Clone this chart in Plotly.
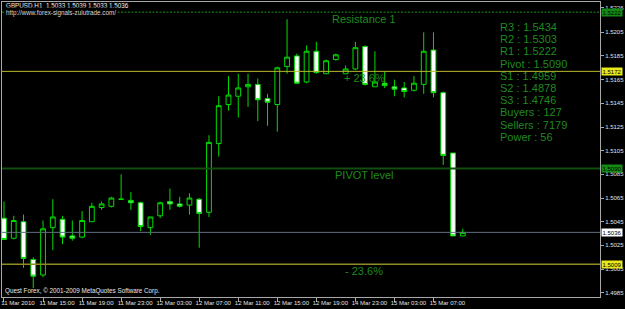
import plotly.graph_objects as go

# ---------------- data ----------------
symbol = "GBPUSD,H1"
time_labels = ["11 Mar 2010", "11 Mar 15:00", "11 Mar 19:00", "11 Mar 23:00",
               "12 Mar 03:00", "12 Mar 07:00", "12 Mar 11:00", "12 Mar 15:00",
               "12 Mar 19:00", "14 Mar 23:00", "15 Mar 03:00", "15 Mar 07:00"]
label_step = 4  # one label every 4 hourly bars

opens = [1.5048, 1.5031, 1.5045, 1.5013, 1.5000, 1.5040, 1.5047, 1.5033, 1.5032, 1.5045,
         1.5057, 1.5058, 1.5064, 1.5063, 1.5061, 1.5040, 1.5050, 1.5062, 1.5060, 1.5059,
         1.5064, 1.5053, 1.5111, 1.5144, 1.5151, 1.5159, 1.5161, 1.5149, 1.5144, 1.5176,
         1.5185, 1.5163, 1.5189, 1.5170, 1.5182, 1.5170, 1.5174, 1.5193, 1.5159, 1.5162,
         1.5159, 1.5158, 1.5156, 1.5161, 1.5190, 1.5154, 1.5103, 1.5033]
highs = [1.5062, 1.5050, 1.5051, 1.5015, 1.5046, 1.5064, 1.5050, 1.5046, 1.5054, 1.5061,
         1.5062, 1.5066, 1.5085, 1.5070, 1.5062, 1.5049, 1.5062, 1.5073, 1.5066, 1.5069,
         1.5065, 1.5118, 1.5151, 1.5168, 1.5170, 1.5170, 1.5166, 1.5153, 1.5176, 1.5216,
         1.5187, 1.5194, 1.5197, 1.5182, 1.5187, 1.5177, 1.5197, 1.5194, 1.5189, 1.5172,
         1.5165, 1.5163, 1.5168, 1.5205, 1.5205, 1.5155, 1.5103, 1.5039]
lows = [1.5030, 1.5030, 1.5006, 1.4989, 1.4998, 1.5021, 1.5026, 1.5029, 1.5031, 1.5045,
        1.5055, 1.5057, 1.5064, 1.5055, 1.5037, 1.5034, 1.5048, 1.5055, 1.5057, 1.5051,
        1.5023, 1.5049, 1.5100, 1.5139, 1.5133, 1.5142, 1.5130, 1.5126, 1.5121, 1.5170,
        1.5162, 1.5162, 1.5170, 1.5170, 1.5181, 1.5170, 1.5173, 1.5160, 1.5159, 1.5158,
        1.5151, 1.5150, 1.5155, 1.5153, 1.5150, 1.5093, 1.5033, 1.5033]
closes = [1.5030, 1.5046, 1.5014, 1.4999, 1.5039, 1.5049, 1.5032, 1.5031, 1.5046, 1.5058,
          1.5060, 1.5065, 1.5064, 1.5061, 1.5041, 1.5049, 1.5061, 1.5060, 1.5058, 1.5065,
          1.5052, 1.5112, 1.5143, 1.5152, 1.5158, 1.5161, 1.5148, 1.5146, 1.5175, 1.5184,
          1.5162, 1.5189, 1.5171, 1.5181, 1.5186, 1.5174, 1.5192, 1.5161, 1.5163, 1.5160,
          1.5157, 1.5155, 1.5162, 1.5189, 1.5154, 1.5101, 1.5033, 1.5036]

price_ticks = [1.4985, 1.5005, 1.5025, 1.5045, 1.5065, 1.5085, 1.5105, 1.5125,
               1.5145, 1.5165, 1.5185, 1.5205, 1.5226]
y_range = [1.49814, 1.52306]

resistance1 = 1.5222
plus_236 = 1.5172
pivot = 1.5090
minus_236 = 1.5009
current_price = closes[-1]

info_labels = ["R3", "R2", "R1", "Pivot", "S1", "S2", "S3", "Buyers", "Sellers", "Power"]
info_values = ["1.5434", "1.5303", "1.5222", "1.5090", "1.4959", "1.4878", "1.4746",
               "127", "7179", "56"]

# ---------------- figure ----------------
W, H = 625, 309
ML, MR, MT, MB = 1, 23, 2, 12
plot_w = W - ML - MR
plot_h = H - MT - MB

BAR = "#00dc00"
GREEN_TXT = "#1f8a1f"
AXIS = "#a8a8a8"
FONT = "Liberation Sans, Arial, sans-serif"

x = list(range(len(opens)))

fig = go.Figure()
fig.add_trace(go.Candlestick(
    x=x, open=opens, high=highs, low=lows, close=closes,
    increasing=dict(line=dict(color=BAR, width=1), fillcolor="#000000"),
    decreasing=dict(line=dict(color=BAR, width=1), fillcolor="#ffffff"),
    whiskerwidth=0, hoverinfo="skip", showlegend=False,
))

# horizontal level lines (drawn above the bars, as in MT4)
def hline(y, color, width, dash="solid"):
    fig.add_shape(type="line", xref="paper", x0=0, x1=1, yref="y", y0=y, y1=y,
                  line=dict(color=color, width=width, dash=dash), layer="above")

hline(resistance1, "#0d640d", 1.5, "2px,1.5px")
hline(plus_236, "#b9b92c", 1)
hline(pivot, "#124d12", 2)
hline(current_price, "#5f7080", 1)
hline(minus_236, "#8c8c22", 1.5)

# right-axis price boxes
def price_box(y, bg, fg="#000000"):
    fig.add_annotation(xref="paper", x=1, xanchor="left", xshift=1,
                       yref="y", y=y, yanchor="middle", text=f"{y:.4f}",
                       showarrow=False, bgcolor=bg, borderpad=0.5,
                       font=dict(family=FONT, size=6, color=fg))

price_box(resistance1, "#138a13")
price_box(plus_236, "#e8e81a")
price_box(pivot, "#138a13")
price_box(current_price, "#ffffff")
price_box(minus_236, "#e8e81a")

# level captions
text_x = 36.9
for lvl, txt in [(resistance1, "Resistance 1"), (plus_236, "+ 23.6%"),
                 (pivot, "PIVOT level"), (minus_236, "- 23.6%")]:
    fig.add_annotation(xref="x", x=text_x, xanchor="center", yref="y", y=lvl,
                       yanchor="top", yshift=1.5, text=txt, showarrow=False,
                       font=dict(family=FONT, size=11, color=GREEN_TXT))

# info block (screen-anchored)
for k, (lab, val) in enumerate(zip(info_labels, info_values)):
    ypix = 27.0 + k * 12.2
    fig.add_annotation(xref="paper", x=(499 - ML) / plot_w, xanchor="left",
                       yref="paper", y=(H - MB - ypix) / plot_h, yanchor="middle",
                       text=f"{lab} : {val}", showarrow=False,
                       font=dict(family=FONT, size=11, color=GREEN_TXT))

# header texts
fig.add_annotation(xref="paper", x=0, xanchor="left", xshift=2,
                   yref="paper", y=(H - MB - 5.5) / plot_h, yanchor="middle",
                   text=f"{symbol}  {opens[-1]:.4f} {highs[-1]:.4f} {lows[-1]:.4f} {closes[-1]:.4f}",
                   showarrow=False, font=dict(family=FONT, size=6.3, color="#f0f0f0"))
fig.add_annotation(xref="paper", x=0, xanchor="left", xshift=2,
                   yref="paper", y=(H - MB - 13) / plot_h, yanchor="middle",
                   text="http://www.forex-signals-zulutrade.com/", bgcolor="#000000",
                   showarrow=False, font=dict(family=FONT, size=6.3, color="#d8d8d8"))
fig.add_annotation(xref="paper", x=0, xanchor="left", xshift=1,
                   yref="paper", y=(H - MB - 291) / plot_h, yanchor="middle",
                   text="Quest Forex, © 2001-2009 MetaQuotes Software Corp.",
                   showarrow=False, font=dict(family=FONT, size=6.3, color="#e8e8e8"))

x0 = -2 / 9.81
x1 = x0 + plot_w / 9.81

fig.update_layout(
    width=W, height=H, margin=dict(l=ML, r=MR, t=MT, b=MB, pad=0),
    paper_bgcolor="#000000", plot_bgcolor="#000000",
    showlegend=False, hovermode=False,
    font=dict(family=FONT, size=6, color="#e0e0e0"),
    xaxis=dict(range=[x0, x1], rangeslider=dict(visible=False),
               tickmode="array", tickvals=[i * label_step for i in range(len(time_labels))],
               ticktext=time_labels, ticks="outside", ticklen=4, tickcolor=AXIS,
               tickfont=dict(family=FONT, size=6, color="#e0e0e0"),
               ticklabelshift=14, ticklabelstandoff=-4,
               showline=True, linecolor=AXIS, linewidth=1, mirror=True,
               showgrid=False, zeroline=False, fixedrange=True),
    yaxis=dict(range=y_range, side="right", tickmode="array", tickvals=price_ticks,
               ticktext=[f"{v:.4f}" for v in price_ticks], ticks="outside", ticklen=3,
               tickcolor=AXIS, tickfont=dict(family=FONT, size=6, color="#e0e0e0"),
               showline=True, linecolor=AXIS, linewidth=1, mirror=True,
               showgrid=False, zeroline=False, fixedrange=True),
)

fig.write_html("out.html", config={"displayModeBar": False})
